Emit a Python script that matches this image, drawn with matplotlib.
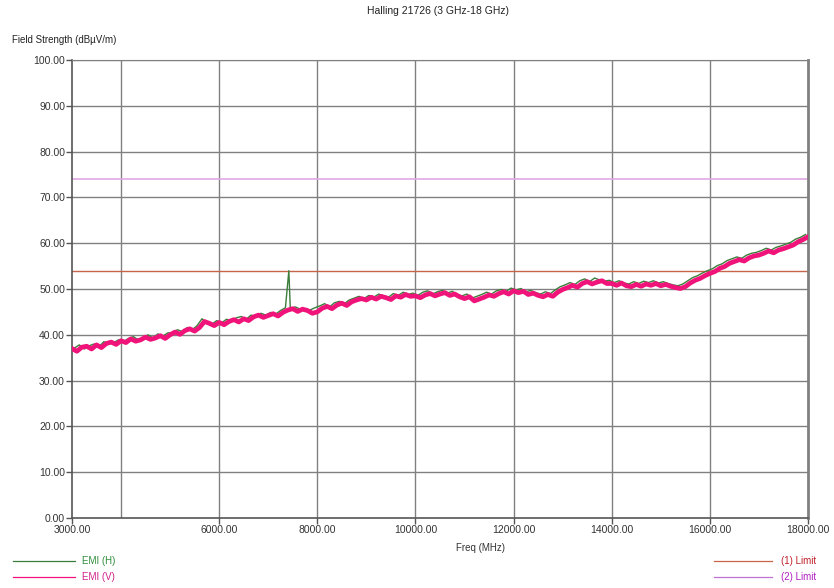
import matplotlib.pyplot as plt
import numpy as np

plt.rcParams['font.family'] = ['Liberation Sans', 'DejaVu Sans']

# EMI (V) trace, 100 MHz steps from 3000 to 18000 MHz
v_freq = np.arange(3000, 18001, 100)
v_level = [
    37.0, 36.4, 37.3, 37.5, 36.9, 37.8, 37.2, 38.1, 38.4, 37.9,
    38.7, 38.3, 39.1, 38.6, 38.9, 39.5, 39.0, 39.3, 39.8, 39.2,
    40.0, 40.6, 40.1, 40.9, 41.3, 40.8, 41.6, 42.9, 42.5, 42.0,
    42.7, 42.2, 42.9, 43.3, 42.8, 43.5, 43.1, 43.9, 44.3, 43.8,
    44.2, 44.6, 44.1, 44.9, 45.4, 45.7, 45.1, 45.6, 45.3, 44.7,
    45.0, 45.8, 46.2, 45.7, 46.5, 46.9, 46.4, 47.2, 47.6, 47.9,
    47.6, 48.2, 47.8, 48.4, 48.1, 47.7, 48.5, 48.2, 48.8, 48.4,
    48.5, 48.1, 48.7, 49.0, 48.5, 48.9, 49.2, 48.6, 48.9, 48.3,
    47.9, 48.3, 47.4, 47.8, 48.2, 48.7, 48.4, 49.0, 49.4, 48.9,
    49.6, 49.2, 49.5, 48.8, 49.1, 48.6, 48.3, 48.8, 48.4, 49.3,
    49.9, 50.3, 50.8, 50.4, 51.2, 51.6, 51.1, 51.5, 51.8, 51.2,
    51.2, 50.8, 51.3, 50.7, 50.5, 51.0, 50.6, 51.1, 50.8, 51.2,
    50.7, 51.0, 50.6, 50.3, 50.1, 50.5, 51.3, 51.9, 52.3, 52.9,
    53.4, 53.8, 54.5, 54.9, 55.6, 56.0, 56.4, 56.1, 56.8, 57.2,
    57.4, 57.8, 58.3, 57.9, 58.5, 58.8, 59.2, 59.6, 60.3, 60.8,
    61.4,
]

# EMI (H) trace, offset by 50 MHz, with the narrow spike near 7420 MHz
h_freq = list(range(3050, 7450, 100)) + [7420] + list(range(7450, 18000, 100))
h_level = [
    37.1, 37.8, 36.9, 37.6, 38.0, 37.4, 38.5, 38.0, 38.3, 38.9,
    38.5, 39.2, 39.6, 38.9, 39.4, 40.0, 39.3, 40.2, 39.7, 40.4,
    40.5, 41.1, 40.7, 41.6, 41.1, 42.0, 43.5, 42.6, 42.3, 43.1,
    42.6, 43.4, 43.0, 43.7, 44.0, 43.4, 44.3, 44.0, 44.7, 44.3,
    44.9, 44.5, 45.3, 45.9,
    54.0,
    45.6, 46.1, 45.6, 45.1, 45.4, 45.9,
    46.3, 46.8, 46.1, 47.0, 47.3, 46.8, 47.6, 48.0, 48.4, 47.9,
    48.6, 48.2, 48.9, 48.5, 48.2, 49.0, 48.6, 49.3, 48.8, 49.1,
    48.6, 49.3, 49.6, 48.9, 49.4, 49.7, 49.1, 49.5, 48.8, 48.5,
    48.9, 48.0, 48.4, 48.8, 49.3, 48.9, 49.6, 49.9, 49.5, 50.2,
    49.8, 50.1, 49.4, 49.7, 49.2, 48.9, 49.4, 49.0, 49.8, 50.5,
    50.9, 51.4, 51.0, 51.8, 52.2, 51.6, 52.4, 52.0, 51.7, 51.9,
    51.4, 51.8, 51.3, 51.1, 51.6, 51.2, 51.7, 51.4, 51.8, 51.3,
    51.6, 51.2, 50.9, 50.7, 51.1, 51.8, 52.5, 52.9, 53.5, 54.0,
    54.4, 55.1, 55.5, 56.2, 56.6, 57.0, 56.7, 57.4, 57.8, 58.0,
    58.4, 58.9, 58.5, 59.1, 59.4, 59.8, 60.2, 60.9, 61.3, 61.9,
]

limit_1 = 54.0
limit_2 = 74.0

x_ticks = [3000, 6000, 8000, 10000, 12000, 14000, 16000, 18000]
x_grid = [4000, 6000, 8000, 10000, 12000, 14000, 16000]
y_ticks = list(range(0, 101, 10))

green = '#3a7d3a'
pink = '#f0147a'
red_limit = '#c8644a'
violet_limit = '#e2a8e6'

fig = plt.figure(figsize=(8.34, 5.88), dpi=100)
ax = fig.add_axes([0.0863, 0.119, 0.8825, 0.779])

# Grid
for gx in x_grid:
    ax.axvline(gx, color='#808080', linewidth=1.0, zorder=1)
for gy in y_ticks[1:]:
    ax.axhline(gy, color='#808080', linewidth=1.0, zorder=1)

# Limits
ax.axhline(limit_1, color=red_limit, linewidth=1.0, zorder=2)
ax.axhline(limit_2, color=violet_limit, linewidth=1.2, zorder=2)

# Traces
ax.plot(h_freq, h_level, color=green, linewidth=1.0, zorder=3)
ax.plot(v_freq, v_level, color=pink, linewidth=3.4, zorder=4)

ax.set_xlim(3000, 18000)
ax.set_ylim(0, 100)
ax.set_xticks(x_ticks, [f'{t:.2f}' for t in x_ticks])
ax.set_yticks(y_ticks, [f'{t:.2f}' for t in y_ticks])
ax.tick_params(axis='both', labelsize=7.5, length=4, width=1, color='#555555',
               labelcolor='#333333', pad=1)

for s in ['left', 'bottom']:
    ax.spines[s].set_color('#555555')
    ax.spines[s].set_linewidth(1.2)
ax.spines['top'].set_color('#808080')
ax.spines['right'].set_color('#808080')
ax.spines['right'].set_linewidth(2.0)

# Texts
fig.text(0.525, 0.981, 'Halling 21726 (3 GHz-18 GHz)', ha='center', va='center',
         fontsize=7.5, color='#222222')
fig.text(0.014, 0.932, 'Field Strength (dBµV/m)', ha='left', va='center',
         fontsize=7, color='#222222')
fig.text(0.576, 0.068, 'Freq (MHz)', ha='center', va='center',
         fontsize=7, color='#333333')

# Legend (drawn by hand like the analyser printout)
fig.add_artist(plt.Line2D([0.016, 0.090], [0.046, 0.046], color=green,
                          linewidth=0.9, transform=fig.transFigure))
fig.add_artist(plt.Line2D([0.016, 0.090], [0.018, 0.018], color=pink,
                          linewidth=0.9, transform=fig.transFigure))
fig.text(0.098, 0.046, 'EMI (H)', ha='left', va='center', fontsize=7, color='#2e8b3a')
fig.text(0.098, 0.018, 'EMI (V)', ha='left', va='center', fontsize=7, color='#d0208a')

fig.add_artist(plt.Line2D([0.856, 0.926], [0.046, 0.046], color=red_limit,
                          linewidth=0.9, transform=fig.transFigure))
fig.add_artist(plt.Line2D([0.856, 0.926], [0.018, 0.018], color='#c070d0',
                          linewidth=0.9, transform=fig.transFigure))
fig.text(0.936, 0.046, '(1) Limit', ha='left', va='center', fontsize=7, color='#c0202a')
fig.text(0.936, 0.018, '(2) Limit', ha='left', va='center', fontsize=7, color='#b020c0')

fig.patch.set_facecolor('white')
fig.savefig('out.png', dpi=100)
